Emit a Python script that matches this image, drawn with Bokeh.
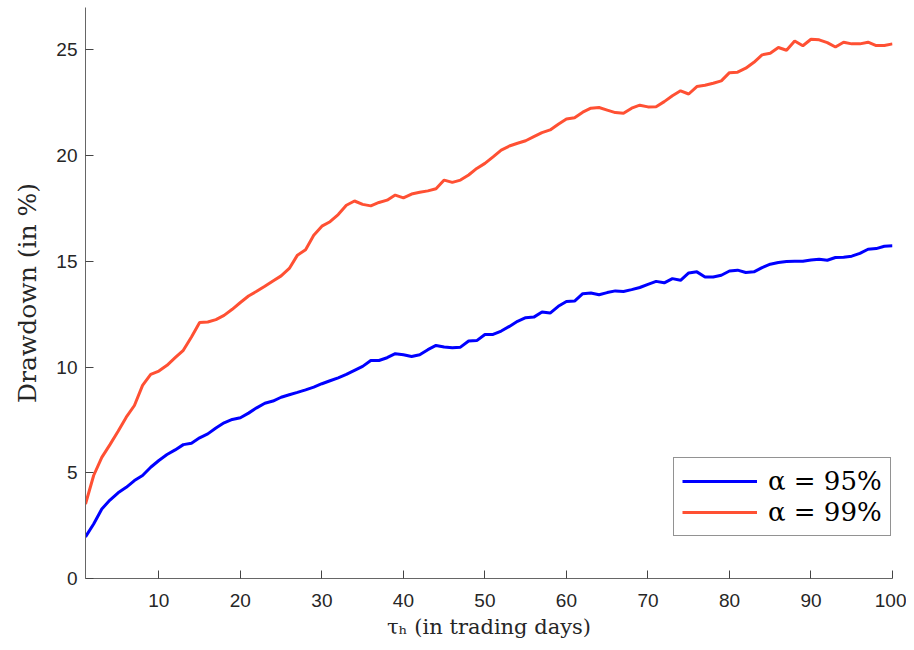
from bokeh.plotting import figure
from bokeh.models import Range1d, FixedTicker
from bokeh.embed import file_html
from bokeh.resources import INLINE

days = list(range(1, 101))

dd_95 = [1.97, 2.58, 3.29, 3.71, 4.05, 4.31, 4.63, 4.87, 5.26, 5.58,
         5.86, 6.08, 6.33, 6.40, 6.65, 6.84, 7.12, 7.36, 7.52, 7.60,
         7.82, 8.07, 8.29, 8.39, 8.57, 8.69, 8.80, 8.92, 9.05, 9.21,
         9.35, 9.49, 9.65, 9.84, 10.03, 10.31, 10.31, 10.44, 10.63, 10.58,
         10.50, 10.58, 10.82, 11.02, 10.95, 10.91, 10.94, 11.23, 11.25, 11.54,
         11.54, 11.70, 11.92, 12.16, 12.33, 12.36, 12.60, 12.55, 12.87, 13.10,
         13.12, 13.47, 13.50, 13.42, 13.52, 13.60, 13.57, 13.66, 13.76, 13.91,
         14.05, 13.98, 14.18, 14.10, 14.45, 14.50, 14.26, 14.26, 14.34, 14.54,
         14.58, 14.47, 14.50, 14.70, 14.86, 14.94, 14.99, 15.00, 15.00, 15.06,
         15.10, 15.05, 15.18, 15.19, 15.24, 15.37, 15.57, 15.60, 15.71, 15.73]

dd_99 = [3.52, 4.87, 5.73, 6.33, 6.96, 7.63, 8.18, 9.13, 9.65, 9.81,
         10.08, 10.44, 10.79, 11.42, 12.10, 12.13, 12.24, 12.44, 12.73, 13.05,
         13.36, 13.58, 13.82, 14.07, 14.31, 14.66, 15.29, 15.55, 16.23, 16.66,
         16.87, 17.21, 17.65, 17.85, 17.69, 17.62, 17.78, 17.89, 18.13, 18.00,
         18.18, 18.26, 18.33, 18.43, 18.84, 18.73, 18.84, 19.08, 19.39, 19.63,
         19.94, 20.26, 20.45, 20.58, 20.70, 20.89, 21.08, 21.21, 21.48, 21.73,
         21.79, 22.05, 22.24, 22.27, 22.15, 22.03, 22.00, 22.24, 22.38, 22.30,
         22.31, 22.55, 22.83, 23.06, 22.91, 23.26, 23.32, 23.42, 23.53, 23.92,
         23.94, 24.13, 24.41, 24.76, 24.84, 25.11, 24.98, 25.42, 25.19, 25.50,
         25.47, 25.34, 25.13, 25.36, 25.28, 25.28, 25.36, 25.20, 25.20, 25.28]

x_ticks = [10, 20, 30, 40, 50, 60, 70, 80, 90, 100]
y_ticks = [0, 5, 10, 15, 20, 25]
labels = ["α = 95%", "α = 99%"]
colors = ["#0000FF", "#FF5033"]

p = figure(width=906, height=642, output_backend="svg", toolbar_location=None,
           x_range=Range1d(1, 100), y_range=Range1d(0, 27),
           min_border_left=85, min_border_right=14, min_border_top=7,
           min_border_bottom=64)
p.outline_line_color = None
p.background_fill_color = "white"
p.border_fill_color = "white"
p.xgrid.grid_line_color = None
p.ygrid.grid_line_color = None

p.line(days, dd_95, line_color=colors[0], line_width=3, legend_label=labels[0])
p.line(days, dd_99, line_color=colors[1], line_width=3, legend_label=labels[1])

p.xaxis.ticker = FixedTicker(ticks=x_ticks)
p.yaxis.ticker = FixedTicker(ticks=y_ticks)

for ax in (p.xaxis[0], p.yaxis[0]):
    ax.axis_line_color = "#666666"
    ax.axis_line_width = 1
    ax.major_tick_line_color = "#444444"
    ax.major_tick_in = 8
    ax.major_tick_out = 0
    ax.minor_tick_line_color = None
    ax.major_label_text_font = "Liberation Sans"
    ax.major_label_text_font_size = "19px"
    ax.major_label_text_color = "#262626"
    ax.axis_label_text_font = "DejaVu Serif"
    ax.axis_label_text_font_style = "normal"
    ax.axis_label_text_color = "#262626"

p.xaxis.axis_label = "τₕ (in trading days)"
p.yaxis.axis_label = "Drawdown (in %)"
p.xaxis.axis_label_text_font_size = "21px"
p.yaxis.axis_label_text_font_size = "25px"
p.xaxis.major_label_standoff = 15
p.yaxis.major_label_standoff = 8
p.xaxis.axis_label_standoff = 5
p.yaxis.axis_label_standoff = 11

lg = p.legend[0]
lg.location = (588, 42)
lg.border_line_color = "#262626"
lg.border_line_width = 1
lg.background_fill_color = "white"
lg.background_fill_alpha = 1
lg.label_text_font = "DejaVu Serif"
lg.label_text_font_size = "26px"
lg.label_text_color = "#000000"
lg.glyph_width = 75
lg.label_standoff = 11
lg.padding = 8
lg.spacing = 1
lg.margin = 0

open("out.html", "w").write(file_html(p, INLINE))
